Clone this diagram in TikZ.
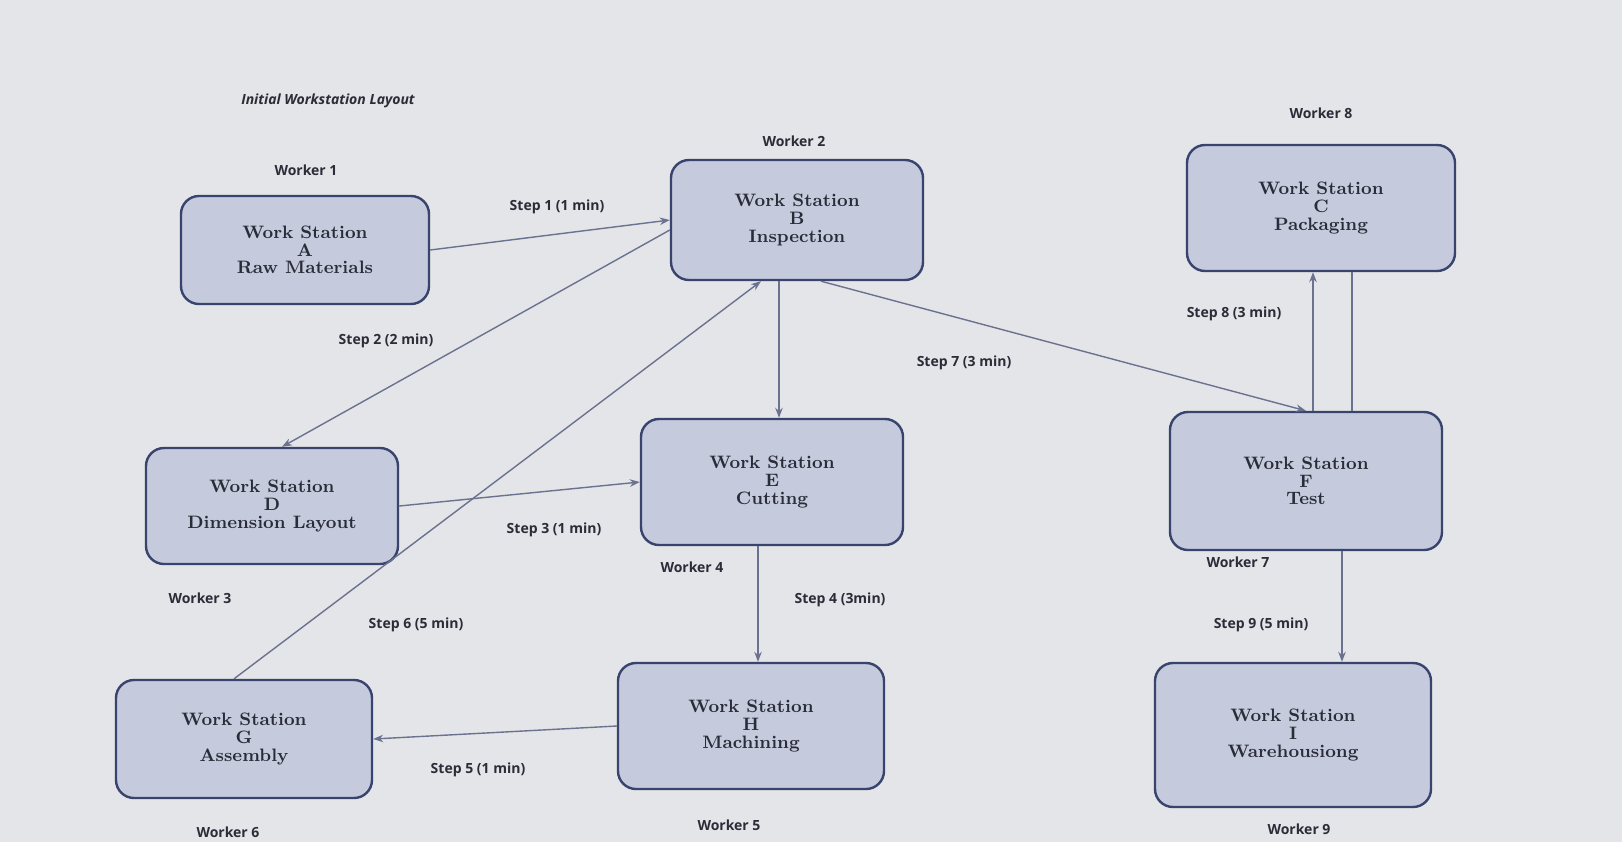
\documentclass[tikz,border=0pt]{standalone}
\usepackage{fontspec}
\setsansfont{Open Sans}
\usetikzlibrary{arrows.meta}
\definecolor{bg}{HTML}{E4E5E8}
\definecolor{boxfill}{HTML}{C5CADD}
\definecolor{boxline}{HTML}{39446E}
\definecolor{ln}{HTML}{6A7290}
\definecolor{txt}{HTML}{2A2C38}
\begin{document}
\begin{tikzpicture}[x=0.5pt,y=-0.5pt,
  ws/.style={draw=boxline,line width=1.2pt,fill=boxfill,rounded corners=9pt,align=center,font=\bfseries\small\linespread{0.8}\selectfont,text=txt},
  lbl/.style={font=\sffamily\bfseries\scriptsize,text=txt},
  conn/.style={draw=ln,line width=0.7pt,-{Stealth[length=5pt]}}]
\fill[bg] (0,0) rectangle (1622,842);
\useasboundingbox (0,0) rectangle (1622,842);
\node[ws,minimum width=124pt,minimum height=54pt] (A) at (305,250) {Work Station\\A\\Raw Materials};
\node[ws,minimum width=126pt,minimum height=60pt] (B) at (797,220) {Work Station\\B\\Inspection};
\node[ws,minimum width=134pt,minimum height=63pt] (C) at (1321,208) {Work Station\\C\\Packaging};
\node[ws,minimum width=126pt,minimum height=58pt] (D) at (272,506) {Work Station\\D\\Dimension Layout};
\node[ws,minimum width=131pt,minimum height=63pt] (E) at (772,482) {Work Station\\E\\Cutting};
\node[ws,minimum width=136pt,minimum height=69pt] (F) at (1306,481) {Work Station\\F\\Test};
\node[ws,minimum width=128pt,minimum height=59pt] (G) at (244,739) {Work Station\\G\\Assembly};
\node[ws,minimum width=133pt,minimum height=63pt] (H) at (751,726) {Work Station\\H\\Machining};
\node[ws,minimum width=138pt,minimum height=72pt] (I) at (1293,735) {Work Station\\I\\Warehousiong};
\node[lbl,font=\sffamily\bfseries\itshape\scriptsize] (title) at (328,101) {Initial Workstation Layout};
\node[lbl] (w1) at (306,170) {Worker 1};
\node[lbl] (w2) at (794,141) {Worker 2};
\node[lbl] (w8) at (1321,113) {Worker 8};
\node[lbl] (w3) at (200,598) {Worker 3};
\node[lbl] (w4) at (692,567) {Worker 4};
\node[lbl] (w7) at (1238,562) {Worker 7};
\node[lbl] (w6) at (228,832) {Worker 6};
\node[lbl] (w5) at (729,825) {Worker 5};
\node[lbl] (w9) at (1299,829) {Worker 9};
\node[lbl] (s1) at (557,207) {Step 1 (1 min)};
\node[lbl] (s2) at (386,341) {Step 2 (2 min)};
\node[lbl] (s7) at (964,363) {Step 7 (3 min)};
\node[lbl] (s8) at (1234,314) {Step 8 (3 min)};
\node[lbl] (s3) at (554,530) {Step 3 (1 min)};
\node[lbl] (s4) at (840,600) {Step 4 (3min)};
\node[lbl] (s6) at (416,625) {Step 6 (5 min)};
\node[lbl] (s5) at (478,770) {Step 5 (1 min)};
\node[lbl] (s9) at (1261,625) {Step 9 (5 min)};
\draw[conn] (A.east) -- (B.west);
\draw[conn] ([yshift=-5pt]B.west) -- ([xshift=5pt]D.north);
\draw[conn] ([xshift=-5pt]G.north) -- ([xshift=-18pt]B.south);
\draw[conn] (D.east) -- (E.west);
\draw[conn] ([xshift=-9pt]B.south) -- ([xshift=-9pt]B.south |- E.north);
\draw[conn] ([xshift=12pt]B.south) -- (F.north);
\draw[conn] ([xshift=3.5pt]F.north) -- ([xshift=3.5pt]F.north |- C.south);
\draw[draw=ln,line width=0.7pt] ([xshift=23pt]F.north) -- ([xshift=23pt]F.north |- C.south);
\draw[conn] ([xshift=-7pt]E.south) -- ([xshift=-7pt]E.south |- H.north);
\draw[conn] (H.west) -- (G.east);
\draw[conn] ([xshift=18pt]F.south) -- ([xshift=18pt]F.south |- I.north);
\end{tikzpicture}
\end{document}
